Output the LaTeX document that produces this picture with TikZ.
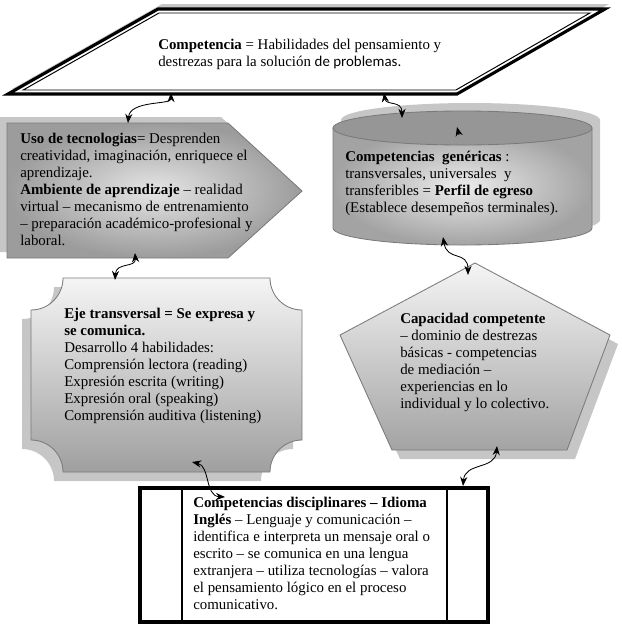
\documentclass[tikz,border=0pt]{standalone}
\usepackage{fontspec}
\setmainfont{Liberation Serif}
\newfontfamily\cpcalibri{Carlito}
\usetikzlibrary{arrows.meta}
\definecolor{cpgrissombra}{HTML}{C6C6C6}
\definecolor{cpgrisborde}{HTML}{7A7A7A}
\definecolor{cpgristapa}{HTML}{969696}
\tikzset{
  cpsombra/.style={fill=cpgrissombra, draw=none},
  cpborde/.style={draw=cpgrisborde, line width=0.6pt},
  cptexto/.style={anchor=base west, align=left, inner sep=0pt,
                  font=\fontsize{10.6pt}{12.05pt}\selectfont},
  cpflecha/.style={{Stealth[length=2.3mm,width=1.8mm]}-{Stealth[length=2.3mm,width=1.8mm]}, line width=0.6pt},
}

\begin{document}
\begin{tikzpicture}[x=0.025cm, y=-0.025cm]
  \useasboundingbox (0,0) rectangle (621,627);
  % ---------------- sombras ----------------
  \fill[cpsombra, shift={(4,-5)}] (8,94) -- (457,94) -- (605,9) -- (158,9) -- cycle;
  \fill[cpsombra, shift={(-7,-6)}] (7,123) -- (228,123) -- (302,191) -- (228,258) -- (7,258) -- cycle;
  \fill[cpsombra, shift={(8,-8)}] (333,128) -- (333,228) .. controls (333,237.4) and (391.4,245) .. (462.5,245)
        .. controls (533.6,245) and (592,237.4) .. (592,228) -- (592,128) -- cycle;
  \fill[cpsombra, shift={(8,-8)}] (462.5,128) ellipse (129.5 and 17);
  \fill[cpsombra, shift={(-9,9)}] (63,278) -- (270,278) .. controls (270,295.7) and (284.3,310) .. (302,310)
        -- (302,440) .. controls (284.3,440) and (270,454.3) .. (270,472) -- (63,472)
        .. controls (63,454.3) and (48.7,440) .. (31,440) -- (31,310)
        .. controls (48.7,310) and (63,295.7) .. (63,278) -- cycle;
  \fill[cpsombra, shift={(8,9)}] (475,263) -- (610,335) -- (567,450) -- (392,450) -- (340,335) -- cycle;
  % ---------------- Competencia ----------------
  \draw[line width=2.2pt, fill=white] (8,94) -- (457,94) -- (605,9) -- (158,9) -- cycle;
  \draw[line width=0.7pt] (23.2,90) -- (455.9,90) -- (589.9,13) -- (159,13) -- cycle;
  \node[cptexto] (tcomp) at (158,66) {\textbf{Competencia} = Habilidades del pensamiento y\\
    destrezas para la solución {\cpcalibri de problemas.}};
  % ---------------- Uso de tecnologias ----------------
  \path[cpborde, inner color=gray!20, outer color=gray!78] (7,123) -- (228,123) -- (302,191) -- (228,258) -- (7,258) -- cycle;
  \node[cptexto] (tuso) at (20,245) {\textbf{Uso de tecnologias}= Desprenden\\
    creatividad, imaginación, enriquece el\\
    aprendizaje.\\
    \textbf{Ambiente de aprendizaje} – realidad\\
    virtual – mecanismo de entrenamiento\\
    – preparación académico-profesional y\\
    laboral.};
  % ---------------- Competencias genericas ----------------
  \path[cpborde, inner color=gray!15, outer color=gray!72] (333,128) -- (333,228)
        .. controls (333,237.4) and (391.4,245) .. (462.5,245)
        .. controls (533.6,245) and (592,237.4) .. (592,228) -- (592,128) -- cycle;
  \path[cpborde, fill=cpgristapa] (462.5,128) ellipse (129.5 and 17);
  \node[cptexto] (tcil) at (345,212) {\textbf{Competencias\ \ genéricas} :\\
    transversales, universales\ \ y\\
    transferibles = \textbf{Perfil de egreso}\\
    (Establece desempeños terminales).};
  % ---------------- Eje transversal ----------------
  \path[cpborde, top color=gray!8, bottom color=gray!75] (63,278) -- (270,278)
        .. controls (270,295.7) and (284.3,310) .. (302,310)
        -- (302,440) .. controls (284.3,440) and (270,454.3) .. (270,472) -- (63,472)
        .. controls (63,454.3) and (48.7,440) .. (31,440) -- (31,310)
        .. controls (48.7,310) and (63,295.7) .. (63,278) -- cycle;
  \node[cptexto] (teje) at (64,420) {\textbf{Eje transversal = Se expresa y}\\
    \textbf{se comunica.}\\
    Desarrollo 4 habilidades:\\
    Comprensión lectora (reading)\\
    Expresión escrita (writing)\\
    Expresión oral (speaking)\\
    Comprensión auditiva (listening)};
  % ---------------- Capacidad competente ----------------
  \path[cpborde, top color=gray!8, bottom color=gray!72] (475,263) -- (610,335) -- (567,450) -- (392,450) -- (340,335) -- cycle;
  \node[cptexto] (tpen) at (400,408) {\textbf{Capacidad competente}\\
    – dominio de destrezas\\
    básicas - competencias\\
    de mediación –\\
    experiencias en lo\\
    individual y lo colectivo.};
  % ---------------- Competencias disciplinares ----------------
  \draw[line width=2.2pt, fill=white] (140,488) rectangle (488,622);
  \draw[line width=2pt] (182,488) -- (182,622);
  \draw[line width=2pt] (447,488) -- (447,622);
  \node[cptexto] (tdisc) at (193,609) {\textbf{Competencias disciplinares – Idioma}\\
    \textbf{Inglés} – Lenguaje y comunicación –\\
    identifica e interpreta un mensaje oral o\\
    escrito – se comunica en una lengua\\
    extranjera – utiliza tecnologías – valora\\
    el pensamiento lógico en el proceso\\
    comunicativo.};
  % ---------------- conectores ----------------
  \coordinate (compI) at (171,93);
  \coordinate (compD) at (384,93);
  \coordinate (usoN) at (128,123);
  \coordinate (usoS) at (135,253);
  \coordinate (cilN) at (402,118);
  \coordinate (cilS) at (443,237);
  \coordinate (cilA) at (459,135);
  \coordinate (cilB) at (457,127);
  \coordinate (ejeN) at (115,280);
  \coordinate (ejeS) at (192,462);
  \coordinate (penN) at (468,275);
  \coordinate (penS) at (497,446);
  \coordinate (discN) at (463,486);
  \coordinate (discT) at (225,497);
  \draw[cpflecha] (compI) .. controls (171,105) and (130,100) .. (usoN);
  \draw[cpflecha] (compD) .. controls (386,106) and (402,100) .. (cilN);
  \draw[cpflecha] (usoS) .. controls (136,268) and (116,262) .. (ejeN);
  \draw[cpflecha] (cilS) .. controls (447,262) and (468,250) .. (penN);
  \draw[cpflecha] (penS) .. controls (495,470) and (465,462) .. (discN);
  \draw[cpflecha] (ejeS) .. controls (210,466) and (205,496) .. (discT);
  \draw[-{Stealth[length=2.3mm,width=1.8mm]}, line width=0.6pt] (cilA) -- (cilB);
\end{tikzpicture}
\end{document}
